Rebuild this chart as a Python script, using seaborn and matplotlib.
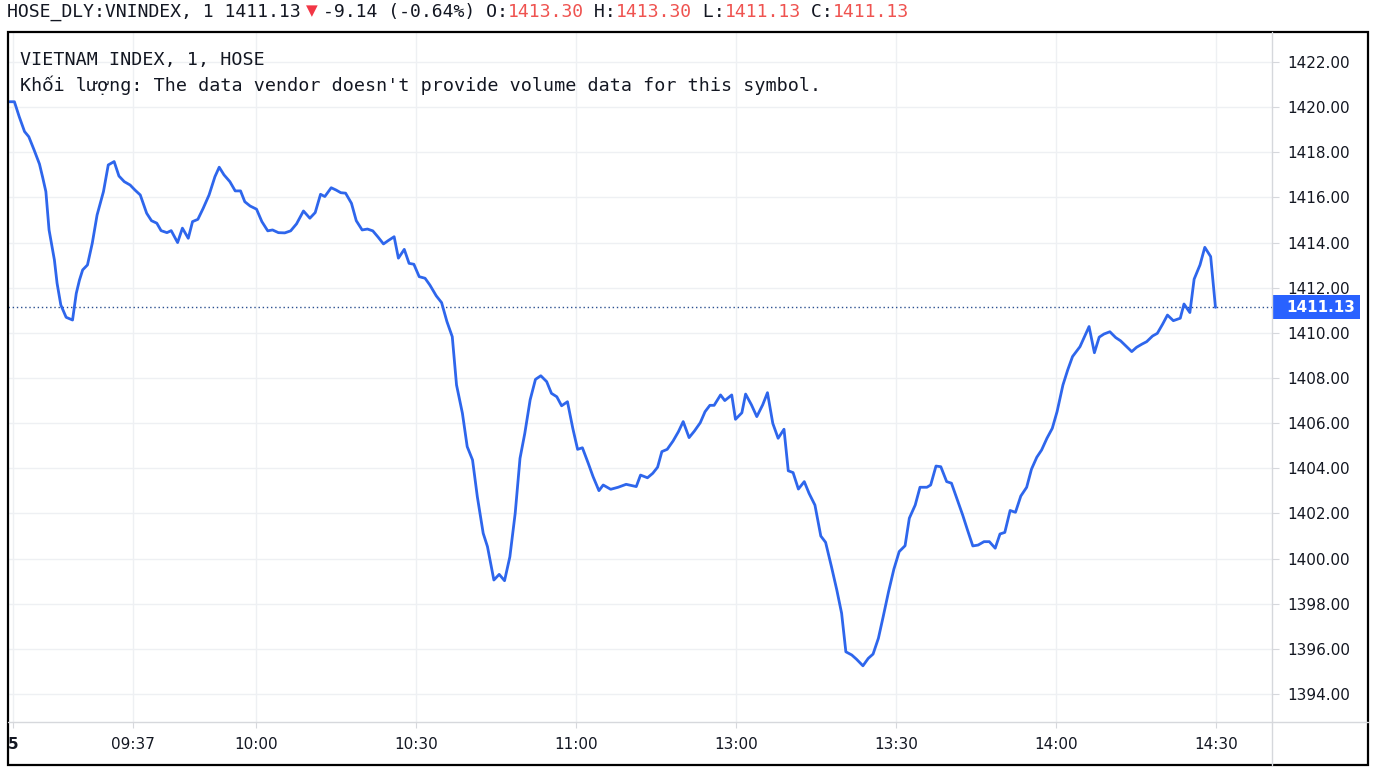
import matplotlib
matplotlib.use("Agg")
import numpy as np
import pandas as pd
import seaborn as sns
import matplotlib.pyplot as plt
import matplotlib.transforms as mtransforms
from matplotlib.patches import Rectangle
from matplotlib.lines import Line2D

# ---------------- data (session minutes from 09:15, lunch break removed) ----------------
minute = [
    -1.4, -0.3, 0.6, 1.6, 2.4, 3.4, 4.4, 5.0, 5.6, 6.2, 7.2, 7.7, 8.4, 9.4, 10.6, 11.3, 11.9, 12.5,
    13.4, 14.3, 15.2, 16.4, 17.3, 18.4, 19.3, 20.3, 21.4, 22.3, 23.3, 24.5, 25.4, 26.4, 27.2, 28.3,
    29.1, 30.3, 31.2, 32.3, 33.1, 34.1, 35.1, 36.2, 37.3,
    38.1, 39.0, 40.1, 41.1, 42.1, 42.9, 43.9, 45.1, 46.1, 47.2, 48.1, 49.2, 50.4, 51.5, 52.6, 53.9,
    55.1, 56.1, 57.1, 57.9, 59.1, 60.0, 60.9, 61.8, 62.9, 63.8, 64.9, 65.9, 66.9, 67.9, 68.9, 69.8,
    70.9, 71.7, 72.8, 73.7, 74.6, 75.6,
    76.7, 77.6, 78.8, 79.8, 80.8, 81.8, 82.6, 83.7, 84.6, 85.6, 86.5, 87.6, 88.4, 89.6, 90.6, 91.6,
    92.6, 93.6, 94.5, 95.4, 96.4, 97.4, 98.4, 99.5, 100.4, 101.4, 102.3, 103.4, 104.4, 105.3, 106.2,
    107.3, 108.2, 109.3,
    110.1, 111.5, 112.9, 114.4, 116.3, 117.1, 118.4, 119.4, 120.3, 121.1, 122.1, 123.2, 124.2, 125.1,
    126.2, 127.2, 128.3, 129.2, 130.1, 130.9, 132.1, 132.9, 134.2, 134.9, 136.1, 136.8, 137.9, 138.9,
    140.0, 140.9, 141.9, 142.9, 144.0, 144.8, 145.7, 146.7, 147.8, 148.7,
    149.8, 150.9, 151.8, 152.9, 153.9, 154.8, 155.6, 156.7, 157.6, 158.8, 159.8, 160.7, 161.7, 162.6,
    163.6, 164.6, 165.6, 166.7, 167.5, 168.6, 169.5, 170.8, 171.5, 172.5, 173.4, 174.5, 175.4, 176.4,
    177.5, 178.4, 179.4, 180.4, 181.5, 182.5, 183.6, 184.5, 185.4, 186.4,
    187.4, 188.4, 189.5, 190.4, 191.4, 192.3, 193.3, 194.3, 195.2, 196.3, 197.2, 198.1, 199.5, 201.2,
    202.2, 203.1, 204.0, 205.1, 206.2, 207.1, 208.1, 209.2, 210.1, 211.1, 212.0, 213.1, 214.0, 215.0,
    215.9, 217.0, 218.3, 219.0, 220.1, 220.9, 222.0, 222.9, 224.0, 224.9,
]
price = [
    1420.24, 1420.24, 1419.58, 1418.92, 1418.69, 1418.10, 1417.48, 1416.89, 1416.26, 1414.56,
    1413.23, 1412.20, 1411.24, 1410.69, 1410.57, 1411.75, 1412.34, 1412.79, 1413.01, 1413.97,
    1415.22, 1416.26, 1417.44, 1417.59, 1416.95, 1416.70, 1416.55, 1416.33, 1416.11, 1415.30,
    1414.97, 1414.86, 1414.53, 1414.44, 1414.53, 1414.00, 1414.64, 1414.19, 1414.93, 1415.03,
    1415.52, 1416.11, 1416.92,
    1417.34, 1417.00, 1416.70, 1416.29, 1416.29, 1415.81, 1415.62, 1415.48, 1414.93, 1414.52,
    1414.56, 1414.44, 1414.43, 1414.52, 1414.83, 1415.40, 1415.08, 1415.33, 1416.14, 1416.04,
    1416.43, 1416.33, 1416.21, 1416.19, 1415.74, 1414.97, 1414.56, 1414.60, 1414.52, 1414.24,
    1413.94, 1414.09, 1414.26, 1413.31, 1413.70, 1413.08, 1413.04, 1412.49,
    1412.42, 1412.12, 1411.64, 1411.34, 1410.50, 1409.83, 1407.69, 1406.44, 1404.96, 1404.37,
    1402.74, 1401.12, 1400.53, 1399.05, 1399.30, 1399.02, 1400.08, 1402.01, 1404.44, 1405.55,
    1407.03, 1407.94, 1408.10, 1407.84, 1407.32, 1407.17, 1406.77, 1406.95, 1405.77, 1404.84,
    1404.91, 1404.22, 1403.63, 1403.01,
    1403.26, 1403.07, 1403.16, 1403.29, 1403.19, 1403.70, 1403.58, 1403.78, 1404.05, 1404.74,
    1404.84, 1405.21, 1405.62, 1406.07, 1405.36, 1405.65, 1406.02, 1406.51, 1406.79, 1406.79,
    1407.25, 1407.00, 1407.25, 1406.17, 1406.46, 1407.29, 1406.81, 1406.29, 1406.81, 1407.35,
    1405.99, 1405.33, 1405.73, 1403.89, 1403.81, 1403.08, 1403.41, 1402.89,
    1402.37, 1401.00, 1400.72, 1399.64, 1398.61, 1397.58, 1395.87, 1395.73, 1395.54, 1395.25,
    1395.58, 1395.77, 1396.47, 1397.43, 1398.53, 1399.53, 1400.31, 1400.57, 1401.79, 1402.37,
    1403.16, 1403.16, 1403.26, 1404.10, 1404.07, 1403.41, 1403.34, 1402.67, 1401.93, 1401.27,
    1400.56, 1400.60, 1400.75, 1400.75, 1400.46, 1401.09, 1401.16, 1402.13,
    1402.05, 1402.77, 1403.16, 1403.96, 1404.49, 1404.81, 1405.33, 1405.77, 1406.51, 1407.69,
    1408.36, 1408.95, 1409.39, 1410.28, 1409.12, 1409.81, 1409.95, 1410.05, 1409.79, 1409.65,
    1409.42, 1409.17, 1409.36, 1409.50, 1409.61, 1409.86, 1409.98, 1410.39, 1410.79, 1410.54,
    1410.65, 1411.28, 1410.90, 1412.38, 1413.01, 1413.79, 1413.38, 1411.13,
]
time_tick_pos = [-0.5, 22, 45, 75, 105, 135, 165, 195, 225]
time_tick_labels = ["5", "09:37", "10:00", "10:30", "11:00", "13:00", "13:30", "14:00", "14:30"]
price_ticks = [1394, 1396, 1398, 1400, 1402, 1404, 1406, 1408, 1410, 1412, 1414, 1416, 1418, 1420, 1422]
last_price = 1411.13
change = -9.14
change_pct = -0.64
o_val, h_val, l_val, c_val = 1413.30, 1413.30, 1411.13, 1411.13

# ---------------- styling ----------------
W, H = 1376, 778
LINE = "#2e66ec"
RED = "#ef5350"
TXT = "#131722"
GRID = "#eef0f3"
SEP = "#d6d8dc"

sns.set_theme(style="white")
plt.rcParams["font.family"] = ["DejaVu Sans"]

fig = plt.figure(figsize=(W / 100, H / 100), dpi=100)
fig.patch.set_facecolor("white")


def fx(px):
    return px / W


def fy(py):
    return 1 - py / H


ax = fig.add_axes([fx(8), fy(722), (1272 - 8) / W, (722 - 32) / H])
df = pd.DataFrame({"minute": minute, "price": price})
sns.lineplot(data=df, x="minute", y="price", ax=ax, color=LINE, linewidth=2.0,
             estimator=None, sort=False, zorder=4)
for l in ax.get_lines():
    l.set_solid_joinstyle("round")

ax.set_xlim(-1.5, 235.5)
ax.set_ylim(1392.76, 1423.33)
ax.set_xlabel("")
ax.set_ylabel("")

ax.yaxis.tick_right()
ax.set_yticks(price_ticks)
ax.set_yticklabels([f"{v:.2f}" for v in price_ticks])
ax.set_xticks(time_tick_pos)
ax.set_xticklabels(time_tick_labels)
ax.xaxis.get_ticklabels()[0].set_fontweight("bold")

ax.tick_params(axis="y", which="both", right=True, left=False, length=5, width=0.8,
               color=SEP, pad=6, labelsize=11, labelcolor=TXT)
ax.tick_params(axis="x", which="both", bottom=True, length=4, width=0.8,
               color=SEP, pad=7, labelsize=11, labelcolor=TXT)
ax.grid(True, color=GRID, linewidth=1)
ax.set_axisbelow(True)
for s in ax.spines.values():
    s.set_visible(False)

# last price dotted line
ax.axhline(last_price, color="#2b4f8f", linewidth=1, linestyle=(0, (1, 2)), zorder=3)

# price tag on the axis
blend = mtransforms.blended_transform_factory(ax.transAxes, ax.transData)
half = 12 / 22.57
ax.add_patch(Rectangle((1.0, last_price - half), 88 / 1264, 2 * half, transform=blend,
                       facecolor="#2962ff", edgecolor="none", clip_on=False, zorder=6))
ax.text(1.0 + 14 / 1264, last_price, f"{last_price:.2f}", transform=blend, color="white",
        fontsize=11, fontweight="bold", va="center", ha="left", zorder=7, clip_on=False)

# separators and outer frame
fig.add_artist(Line2D([fx(1272), fx(1272)], [fy(32), fy(765)], color=SEP, lw=1))
fig.add_artist(Line2D([fx(8), fx(1368)], [fy(722), fy(722)], color=SEP, lw=1))
fig.add_artist(Rectangle((fx(8), fy(765)), fx(1368) - fx(8), fy(32) - fy(765),
                         fill=False, edgecolor="black", linewidth=1.6,
                         transform=fig.transFigure))

# header (monospace pieces)
MONO = ["DejaVu Sans Mono", "DejaVu Sans"]
CW = 10.85
HS = 13.1
hy = fy(12)
fig.text(fx(7), hy, "HOSE_DLY:VNINDEX, 1 " + f"{last_price:.2f}", color=TXT,
         family=MONO, fontsize=HS, va="center", ha="left")
fig.text(fx(306), fy(11), "\u25BC", color="#f23645", family=["DejaVu Sans"], fontsize=11,
         va="center", ha="left")
x0 = 323
segs = [
    (f"{change:.2f} ({change_pct:.2f}%) O:", TXT),
    (f"{o_val:.2f}", RED),
    (" H:", TXT),
    (f"{h_val:.2f}", RED),
    (" L:", TXT),
    (f"{l_val:.2f}", RED),
    (" C:", TXT),
    (f"{c_val:.2f}", RED),
]
pos = 0
for s, col in segs:
    fig.text(fx(x0 + pos * CW), hy, s, color=col, family=MONO, fontsize=HS,
             va="center", ha="left")
    pos += len(s)

# legend text inside pane
LS = 13.2
fig.text(fx(20), fy(60), "VIETNAM INDEX, 1, HOSE", color=TXT, family=MONO,
         fontsize=LS, va="center", ha="left")
fig.text(fx(20), fy(85), "Khối lượng: The data vendor doesn't provide volume data for this symbol.",
         color=TXT, family=MONO, fontsize=LS, va="center", ha="left")

fig.savefig("out.png", dpi=100, facecolor="white")
